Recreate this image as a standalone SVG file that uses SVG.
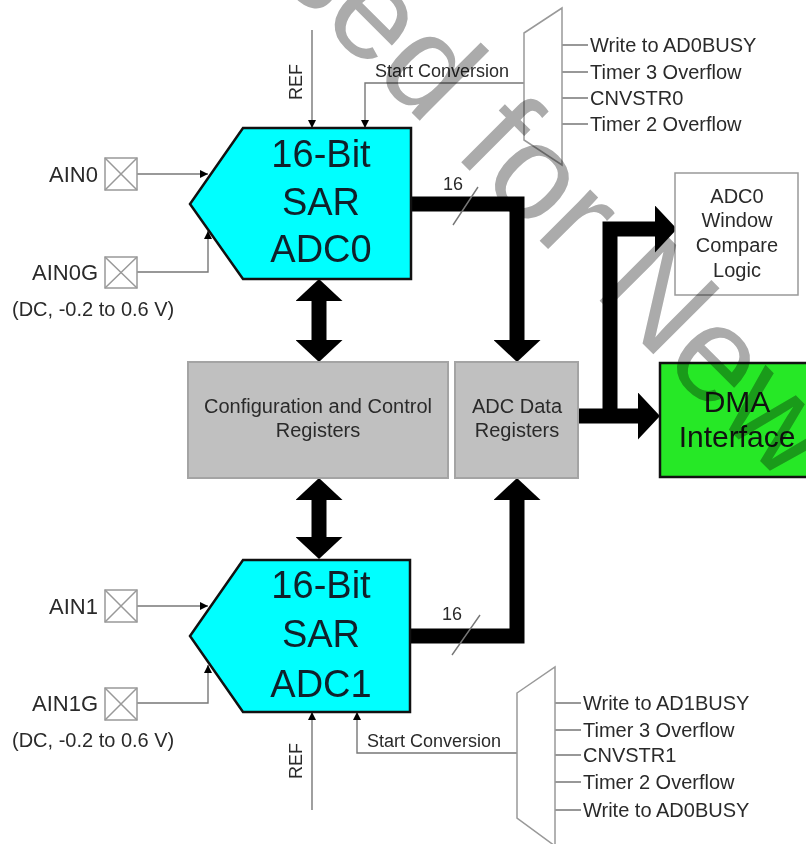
<svg xmlns="http://www.w3.org/2000/svg" width="806" height="844" viewBox="0 0 806 844">
<defs>
<style>
text{font-family:"Liberation Sans",Arial,sans-serif;fill:#2a2a2a}
.big{font-size:38px;fill:#10202a;text-anchor:middle}
.lbl{font-size:20px}
.ain{font-size:22px;text-anchor:end}
.sm{font-size:18px}
.mid{text-anchor:middle}
.adc{fill:#00ffff;stroke:#111;stroke-width:2.5;stroke-linejoin:miter}
.reg{fill:#c0c0c0;stroke:#a4a4a4;stroke-width:2}
.thin{fill:none;stroke:#777;stroke-width:1.4}
.sig{fill:none;stroke:#777;stroke-width:1.4;marker-end:url(#sa)}
.bus{fill:none;stroke:#000;stroke-width:15;stroke-linejoin:miter}
.pin{fill:#fff;stroke:#999;stroke-width:1.5}
.mux{fill:#fff;stroke:#999;stroke-width:1.5}
.wm{font-family:"Liberation Sans",Arial,sans-serif;font-size:136px;fill:#ababab;mix-blend-mode:multiply}
</style>
<marker id="sa" viewBox="0 0 8 8" refX="8" refY="4" markerWidth="8" markerHeight="8" markerUnits="userSpaceOnUse" orient="auto"><path d="M0,0L8,4L0,8z" fill="#000"/></marker>
<marker id="ba" viewBox="0 0 22 47" refX="0" refY="23.5" markerWidth="22" markerHeight="47" markerUnits="userSpaceOnUse" orient="auto-start-reverse"><path d="M0,0L22,23.5L0,47z" fill="#000"/></marker>
</defs>
<rect width="806" height="844" fill="#fff"/>

<g id="connectors">
<path class="sig" d="M137,174H208"/>
<path class="sig" d="M137,272H208V231"/>
<path class="sig" d="M312,30V128"/>
<path class="sig" d="M524,83H365V128"/>
<path class="sig" d="M137,606H208"/>
<path class="sig" d="M137,703H208V665"/>
<path class="sig" d="M312,810V712"/>
<path class="sig" d="M517,753H357V712"/>
<path class="thin" d="M562,45H588M562,72H588M562,98H588M562,124H588"/>
<path class="thin" d="M555,703H581M555,730H581M555,755H581M555,782H581M555,810H581"/>
<path class="bus" d="M411,204H517V340" marker-end="url(#ba)"/>
<path class="bus" d="M410,636H517V500" marker-end="url(#ba)"/>
<path class="bus" d="M578,416H638" marker-end="url(#ba)"/>
<path class="bus" d="M610,416V229H655" marker-end="url(#ba)"/>
<path class="bus" d="M319,301V340" marker-start="url(#ba)" marker-end="url(#ba)"/>
<path class="bus" d="M319,500V537" marker-start="url(#ba)" marker-end="url(#ba)"/>
<path class="thin" d="M453,225L478,187M452,655L480,615"/>
<text class="sm" x="443" y="190">16</text>
<text class="sm" x="442" y="620">16</text>
<text class="sm" x="375" y="77">Start Conversion</text>
<text class="sm" x="367" y="747">Start Conversion</text>
<text class="sm" transform="translate(302,82) rotate(-90)" text-anchor="middle">REF</text>
<text class="sm" transform="translate(302,761) rotate(-90)" text-anchor="middle">REF</text>
</g>

<g id="adc0">
<polygon class="adc" points="243,128 411,128 411,279 243,279 190,204"/>
<text class="big" x="321" y="167">16-Bit</text>
<text class="big" x="321" y="215">SAR</text>
<text class="big" x="321" y="262">ADC0</text>
</g>

<g id="adc1">
<polygon class="adc" points="243,560 410,560 410,712 243,712 190,636"/>
<text class="big" x="321" y="598">16-Bit</text>
<text class="big" x="321" y="647">SAR</text>
<text class="big" x="321" y="697">ADC1</text>
</g>

<g id="ain0">
<text class="ain" x="98" y="182">AIN0</text>
<rect class="pin" x="105" y="158" width="32" height="32"/>
<path class="pin" d="M105,158L137,190M137,158L105,190"/>
</g>
<g id="ain0g">
<text class="ain" x="98" y="280">AIN0G</text>
<rect class="pin" x="105" y="257" width="32" height="31"/>
<path class="pin" d="M105,257L137,288M137,257L105,288"/>
<text class="lbl" x="12" y="316">(DC, -0.2 to 0.6 V)</text>
</g>
<g id="ain1">
<text class="ain" x="98" y="614">AIN1</text>
<rect class="pin" x="105" y="590" width="32" height="32"/>
<path class="pin" d="M105,590L137,622M137,590L105,622"/>
</g>
<g id="ain1g">
<text class="ain" x="98" y="711">AIN1G</text>
<rect class="pin" x="105" y="688" width="32" height="32"/>
<path class="pin" d="M105,688L137,720M137,688L105,720"/>
<text class="lbl" x="12" y="747">(DC, -0.2 to 0.6 V)</text>
</g>

<g id="mux0">
<polygon class="mux" points="524,33 562,8 562,165 524,140"/>
<text class="lbl" x="590" y="52">Write to AD0BUSY</text>
<text class="lbl" x="590" y="79">Timer 3 Overflow</text>
<text class="lbl" x="590" y="105">CNVSTR0</text>
<text class="lbl" x="590" y="131">Timer 2 Overflow</text>
</g>

<g id="mux1">
<polygon class="mux" points="517,693 555,667 555,846 517,818"/>
<text class="lbl" x="583" y="710">Write to AD1BUSY</text>
<text class="lbl" x="583" y="737">Timer 3 Overflow</text>
<text class="lbl" x="583" y="762">CNVSTR1</text>
<text class="lbl" x="583" y="789">Timer 2 Overflow</text>
<text class="lbl" x="583" y="817">Write to AD0BUSY</text>
</g>

<g id="config">
<rect class="reg" x="188" y="362" width="260" height="116"/>
<text class="lbl mid" x="318" y="413">Configuration and Control</text>
<text class="lbl mid" x="318" y="437">Registers</text>
</g>

<g id="data">
<rect class="reg" x="455" y="362" width="123" height="116"/>
<text class="lbl mid" x="517" y="413">ADC Data</text>
<text class="lbl mid" x="517" y="437">Registers</text>
</g>

<g id="window">
<rect x="675" y="173" width="123" height="122" fill="#fff" stroke="#999" stroke-width="1.5"/>
<text class="lbl mid" x="737" y="203">ADC0</text>
<text class="lbl mid" x="737" y="227">Window</text>
<text class="lbl mid" x="737" y="252">Compare</text>
<text class="lbl mid" x="737" y="277">Logic</text>
</g>

<g id="dma">
<rect x="660" y="363" width="160" height="114" fill="#26e826" stroke="#111" stroke-width="2.5"/>
<text x="737" y="412" text-anchor="middle" style="font-size:30px;fill:#111">DMA</text>
<text x="737" y="447" text-anchor="middle" style="font-size:30px;fill:#111">Interface</text>
</g>

<g id="watermark">
<text class="wm" transform="translate(271,-28) rotate(45)">sed for New</text>
</g>
</svg>
